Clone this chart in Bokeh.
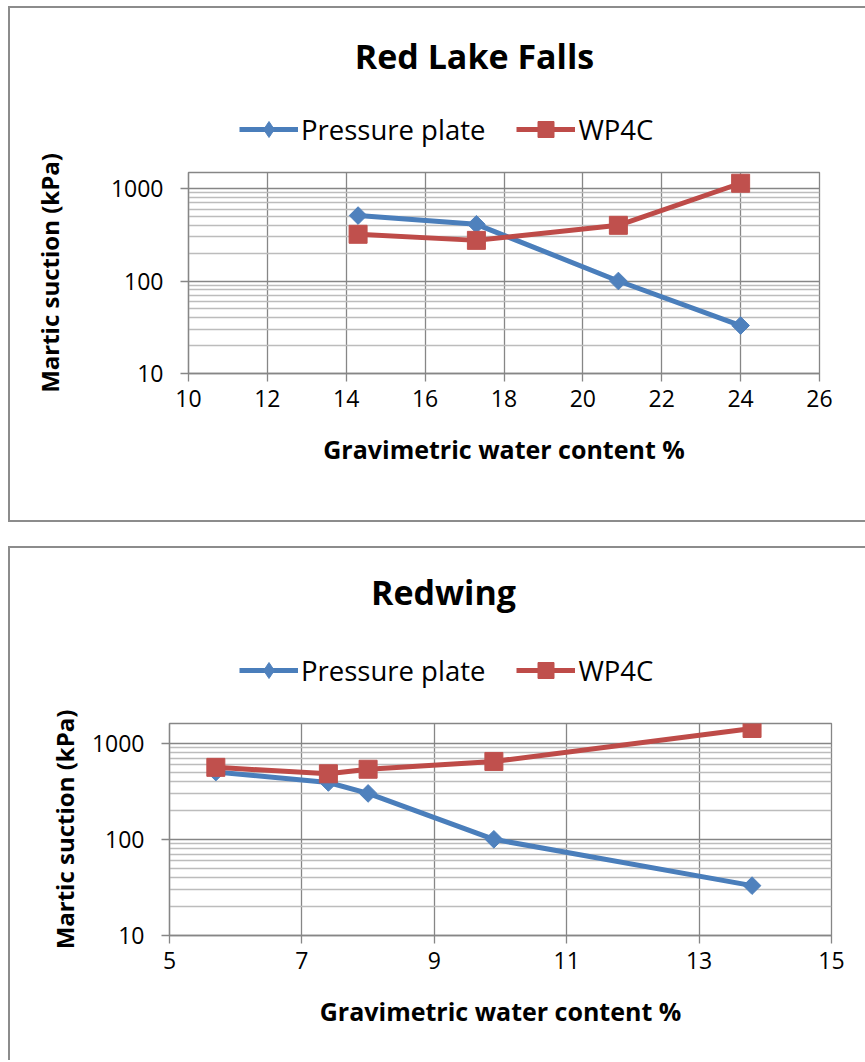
import numpy as np
from bokeh.plotting import figure
from bokeh.models import FixedTicker, Legend, LegendItem, PrintfTickFormatter, Range1d, Label
from bokeh.layouts import column
from bokeh.embed import file_html
from bokeh.resources import INLINE

# ---------------- data ----------------
rlf_title = "Red Lake Falls"
rlf_pp_x = [14.3, 17.3, 20.9, 24.0]
rlf_pp_y = [510, 410, 100, 33]
rlf_wp_x = [14.3, 17.3, 20.9, 24.0]
rlf_wp_y = [320, 275, 400, 1140]
rlf_x_ticks = [10, 12, 14, 16, 18, 20, 22, 24, 26]

rw_title = "Redwing"
rw_pp_x = [5.7, 7.4, 8.0, 9.9, 13.8]
rw_pp_y = [500, 390, 300, 100, 33]
rw_wp_x = [5.7, 7.4, 8.0, 9.9, 13.8]
rw_wp_y = [560, 480, 535, 645, 1420]
rw_x_ticks = [5, 7, 9, 11, 13, 15]

y_ticks = [10, 100, 1000]
y_minor = [m * 10 ** e for e in (1, 2, 3) for m in range(2, 10)]

series_names = ["Pressure plate", "WP4C"]
x_title = "Gravimetric water content %"
y_title = "Martic suction (kPa)"

# ---------------- style ----------------
BLUE_LINE, BLUE = "#4a7ebb", "#4f81bd"
RED_LINE, RED = "#be4b48", "#c0504d"
GRID_MAJOR = "#868686"
GRID_MINOR = "#bcbcbc"
FONT = "Open Sans"
BORDER = "2px solid #8c8c8c"
W = 855


def add_series(p, pp_x, pp_y, wp_x, wp_y, visible=True, legend_only=False):
    l1 = p.line(pp_x, pp_y, line_color=BLUE_LINE, line_width=5, visible=visible)
    if legend_only:
        m1 = p.scatter(pp_x, pp_y, marker="diamond", size=23,
                       fill_color=BLUE, line_color=BLUE, visible=visible)
    else:
        m1 = p.scatter(pp_x, pp_y, marker="square", angle=np.pi / 4, size=12.5,
                       fill_color=BLUE, line_color=BLUE, visible=visible)
    l2 = p.line(wp_x, wp_y, line_color=RED_LINE, line_width=5, visible=visible)
    m2 = p.scatter(wp_x, wp_y, marker="square", size=18, fill_color=RED, line_color=RED,
                   visible=visible)
    return [l1, m1], [l2, m2]


def make_header(title, pp_x, pp_y, wp_x, wp_y, H, ml, mr, title_xy, legend_xy):
    h = figure(width=W, height=H, x_range=Range1d(0, 1), y_range=Range1d(0, 1),
               output_backend="svg", toolbar_location=None,
               x_axis_location=None, y_axis_location=None,
               min_border=0, min_border_left=ml, min_border_right=mr,
               min_border_top=0, min_border_bottom=0)
    h.outline_line_color = None
    h.xgrid.visible = False
    h.ygrid.visible = False
    h.background_fill_color = "white"
    h.border_fill_color = "white"
    r1, r2 = add_series(h, pp_x, pp_y, wp_x, wp_y, visible=False, legend_only=True)
    legend = Legend(items=[LegendItem(label=series_names[0], renderers=r1),
                           LegendItem(label=series_names[1], renderers=r2)],
                    orientation="horizontal", location=legend_xy,
                    padding=0, margin=0, spacing=31, label_standoff=3,
                    glyph_width=59, glyph_height=40, label_height=40,
                    label_text_font=FONT, label_text_font_size="27.5px",
                    label_text_color="black",
                    background_fill_alpha=0, border_line_alpha=0)
    h.add_layout(legend)
    h.add_layout(Label(x=title_xy[0], y=title_xy[1], x_units="screen", y_units="screen",
                       text=title, text_font=FONT,
                       text_font_style="bold", text_font_size="34px", text_color="black",
                       text_align="center", text_baseline="alphabetic"))
    return h


def make_chart(pp_x, pp_y, wp_x, wp_y, x_ticks, y_top, H, ml, mr, mt, mb, ytitle_standoff):
    p = figure(width=W, height=H, x_range=Range1d(x_ticks[0], x_ticks[-1]),
               y_range=Range1d(10, y_top), y_axis_type="log",
               output_backend="svg", toolbar_location=None,
               min_border_left=ml, min_border_right=mr, min_border_top=mt, min_border_bottom=mb)
    p.background_fill_color = "white"
    p.border_fill_color = "white"
    p.outline_line_color = GRID_MAJOR
    p.outline_line_width = 1.3

    xt = FixedTicker(ticks=x_ticks)
    yt = FixedTicker(ticks=y_ticks, minor_ticks=y_minor)
    p.xaxis.ticker = xt
    p.yaxis.ticker = yt
    p.xgrid.ticker = xt
    p.ygrid.ticker = yt
    p.xgrid.grid_line_color = GRID_MAJOR
    p.xgrid.grid_line_width = 1.3
    p.ygrid.grid_line_color = GRID_MAJOR
    p.ygrid.grid_line_width = 1.3
    p.ygrid.minor_grid_line_color = GRID_MINOR
    p.ygrid.minor_grid_line_width = 1.3
    p.yaxis.formatter = PrintfTickFormatter(format="%d")

    for ax in (p.xaxis[0], p.yaxis[0]):
        ax.axis_line_color = GRID_MAJOR
        ax.axis_line_width = 1.3
        ax.major_tick_line_color = GRID_MAJOR
        ax.major_tick_line_width = 1.3
        ax.major_tick_in = 0
        ax.major_tick_out = 8
        ax.minor_tick_line_color = None
        ax.major_label_text_font = FONT
        ax.major_label_text_font_size = "23px"
        ax.major_label_text_color = "black"
        ax.axis_label_text_font = FONT
        ax.axis_label_text_font_style = "bold"
        ax.axis_label_text_color = "black"
    p.xaxis.axis_label_text_font_size = "25px"
    p.yaxis.axis_label_text_font_size = "24px"
    p.xaxis.axis_label = x_title
    p.yaxis.axis_label = y_title
    p.xaxis.major_label_standoff = 8
    p.xaxis.axis_label_standoff = 22
    p.yaxis.major_label_standoff = 17
    p.yaxis.axis_label_standoff = ytitle_standoff

    add_series(p, pp_x, pp_y, wp_x, wp_y)
    return p


# top chart: header 141 px, plot 371 px
h1 = make_header(rlf_title, rlf_pp_x, rlf_pp_y, rlf_wp_x, rlf_wp_y, H=141, ml=178, mr=46,
                 title_xy=(286, 94), legend_xy=(51, 0))
p1 = make_chart(rlf_pp_x, rlf_pp_y, rlf_wp_x, rlf_wp_y, rlf_x_ticks, 1490,
                H=371, ml=178, mr=46, mt=23, mb=147, ytitle_standoff=42)
g1 = column(h1, p1, spacing=0, margin=(6, 0, 0, 8),
            styles={"border-left": BORDER, "border-top": BORDER, "border-bottom": BORDER})

# bottom chart: header 142 px, plot 370 px
h2 = make_header(rw_title, rw_pp_x, rw_pp_y, rw_wp_x, rw_wp_y, H=142, ml=159, mr=34,
                 title_xy=(274, 99), legend_xy=(70, 0))
p2 = make_chart(rw_pp_x, rw_pp_y, rw_wp_x, rw_wp_y, rw_x_ticks, 1600,
                H=370, ml=159, mr=34, mt=33, mb=125, ytitle_standoff=8)
g2 = column(h2, p2, spacing=0, margin=(24, 0, 0, 8),
            styles={"border-left": BORDER, "border-top": BORDER})

layout = column(g1, g2, spacing=0)
open("out.html", "w").write(file_html(layout, INLINE))
